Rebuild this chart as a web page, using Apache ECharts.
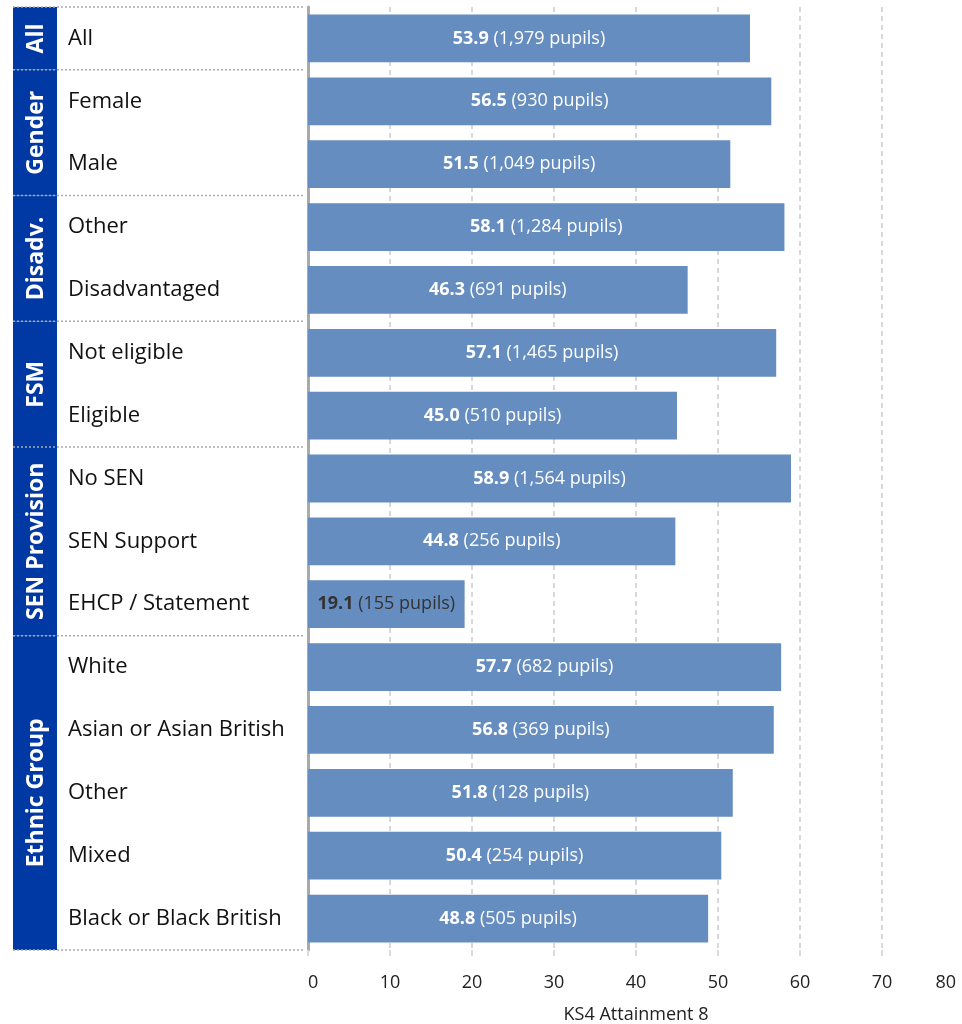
<!DOCTYPE html>
<html>
<head>
<meta charset="utf-8">
<script src="https://cdn.jsdelivr.net/npm/echarts@6/dist/echarts.min.js"></script>
<style>
  html, body { margin: 0; padding: 0; background: #fff; }
  #chart { width: 962px; height: 1024px; }
</style>
</head>
<body>
<div id="chart"></div>
<script>
// categories top to bottom
var categories = ['All', 'Female', 'Male', 'Other', 'Disadvantaged', 'Not eligible', 'Eligible',
    'No SEN', 'SEN Support', 'EHCP / Statement', 'White', 'Asian or Asian British', 'Other',
    'Mixed', 'Black or Black British'];
var attainment = [53.9, 56.5, 51.5, 58.1, 46.3, 57.1, 45.0, 58.9, 44.8, 19.1, 57.7, 56.8, 51.8, 50.4, 48.8];
var pupils = [1979, 930, 1049, 1284, 691, 1465, 510, 1564, 256, 155, 682, 369, 128, 254, 505];
// groups: name, first index, last index
var groupNames = ['All', 'Gender', 'Disadv.', 'FSM', 'SEN Provision', 'Ethnic Group'];
var groupStart = [0, 1, 3, 5, 7, 10];
var groupEnd = [0, 2, 4, 6, 9, 14];
var xTicks = [0, 10, 20, 30, 40, 50, 60, 70, 80];

var FONT = '"Open Sans", "Noto Sans", sans-serif';
var chart = echarts.init(document.getElementById('chart'));

var barData = attainment.map(function (v, i) {
    var item = { value: v };
    if (v < 25) {
        // label doesn't fit in short bar
        item.label = { color: '#333', rich: { b: { color: '#333' } } };
    }
    return item;
});

var groupData = groupNames.map(function (n, i) {
    return [0, groupStart[i], groupEnd[i], n];
});

var xMax = xTicks[xTicks.length - 1];

chart.setOption({
    animation: false,
    grid: { left: 308, right: -2, top: 7, bottom: 74, outerBoundsMode: 'none', containLabel: false },
    xAxis: {
        type: 'value',
        min: xTicks[0],
        max: xMax,
        interval: 10,
        name: 'KS4 Attainment 8',
        nameLocation: 'middle',
        nameGap: 56,
        nameTextStyle: { fontFamily: FONT, fontSize: 18, color: '#222' },
        axisLine: { show: false },
        axisTick: { show: true, length: 6, lineStyle: { color: '#dadada', width: 2 } },
        axisLabel: {
            fontFamily: FONT, fontSize: 18, color: '#222', margin: 24,
            alignMinLabel: 'left', alignMaxLabel: 'right',
            formatter: function (v) {
                return v === xMax ? '{m|' + v + '}' : String(v);
            },
            rich: { m: { fontFamily: FONT, fontSize: 18, color: '#222', padding: [0, 8, 0, 0] } }
        },
        splitLine: { show: true, lineStyle: { color: '#d8d8d8', type: [5, 4], width: 2 } }
    },
    yAxis: {
        type: 'category',
        inverse: true,
        data: categories,
        axisLine: { show: true, lineStyle: { color: '#aaaaaa', width: 3 } },
        axisTick: { show: false },
        axisLabel: {
            align: 'left', margin: 240,
            fontFamily: FONT, fontSize: 22, color: '#111'
        }
    },
    series: [
        {
            type: 'bar',
            data: barData,
            barCategoryGap: '24%',
            itemStyle: { color: '#658dbf' },
            label: {
                show: true,
                position: 'inside',
                color: '#fff',
                fontFamily: FONT,
                fontSize: 18,
                formatter: function (p) {
                    var v = attainment[p.dataIndex].toFixed(1);
                    var n = pupils[p.dataIndex].toLocaleString('en-GB');
                    return '{b|' + v + '} (' + n + ' pupils)';
                },
                rich: { b: { fontWeight: 'bold', fontFamily: FONT, fontSize: 18, color: '#fff' } }
            },
            z: 3
        },
        {
            type: 'custom',
            data: groupData,
            encode: { x: 0, y: 1 },
            clip: false,
            silent: true,
            renderItem: function (params, api) {
                var h = api.size([0, 1])[1];
                var yTop = api.coord([0, api.value(1)])[1] - h / 2;
                var yBot = api.coord([0, api.value(2)])[1] + h / 2;
                var x0 = 13, x1 = 57, xr = 305;
                var children = [
                    { type: 'rect', shape: { x: x0, y: yTop, width: x1 - x0, height: yBot - yTop },
                      style: { fill: '#0039a3' } },
                    { type: 'line', shape: { x1: x0, y1: yTop, x2: xr, y2: yTop },
                      style: { stroke: '#aaaaaa', lineWidth: 1.5, lineDash: [2, 2] } },
                    { type: 'text', x: (x0 + x1) / 2 + 1, y: (yTop + yBot) / 2, rotation: Math.PI / 2,
                      style: { text: api.value(3), fill: '#fff', font: 'bold 23px ' + FONT,
                               align: 'center', verticalAlign: 'middle' } }
                ];
                if (params.dataIndex === groupNames.length - 1) {
                    children.push({ type: 'line', shape: { x1: x0, y1: yBot, x2: xr, y2: yBot },
                        style: { stroke: '#aaaaaa', lineWidth: 1.5, lineDash: [2, 2] } });
                }
                return { type: 'group', children: children };
            },
            z: 4
        }
    ]
});
</script>
</body>
</html>
